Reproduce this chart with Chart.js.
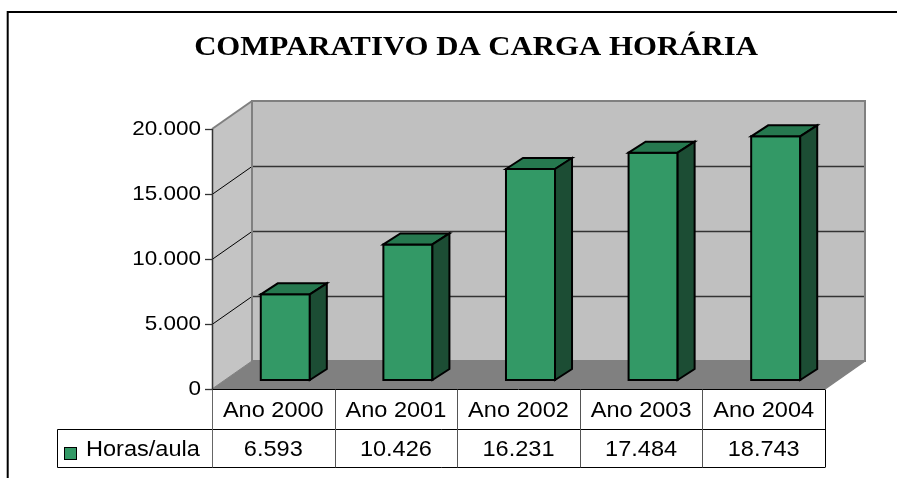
<!DOCTYPE html>
<html>
<head>
<meta charset="utf-8">
<script src="https://cdn.jsdelivr.net/npm/chart.js@4/dist/chart.umd.min.js"></script>
<style>
  body { margin: 0; background: #fff; }
  canvas { display: block; }
</style>
</head>
<body>
<canvas id="grafico" width="897" height="478"></canvas>
<script>
// dados do grafico
const titulo = 'COMPARATIVO DA CARGA HORÁRIA'
const categorias = ['Ano 2000', 'Ano 2001', 'Ano 2002', 'Ano 2003', 'Ano 2004']
const serieNome = 'Horas/aula'
const horasAula = [6593, 10426, 16231, 17484, 18743]
const valoresEixo = [0, 5000, 10000, 15000, 20000]
const rotulosEixo = ['0', '5.000', '10.000', '15.000', '20.000']

// profundidade do "3D"
const DX = 40, DY = 28      // parede lateral / piso
const FX = 12, FY = 9       // recuo da face frontal das barras
const BX = 17, BY = 11      // espessura das barras

function milhar(n) {
  return String(n).replace(/\B(?=(\d{3})+(?!\d))/g, '.')
}

// texto um pouco esticado na horizontal, como no original
function texto(ctx, s, x, y, align, sx) {
  ctx.save()
  ctx.translate(x, y)
  ctx.scale(sx, 1)
  ctx.textAlign = align
  ctx.fillText(s, 0, 0)
  ctx.restore()
}

function poly(ctx, pts, fill, stroke, lw) {
  ctx.beginPath()
  ctx.moveTo(pts[0][0], pts[0][1])
  for (let i = 1; i < pts.length; i++) ctx.lineTo(pts[i][0], pts[i][1])
  ctx.closePath()
  if (fill) { ctx.fillStyle = fill; ctx.fill() }
  if (stroke) { ctx.strokeStyle = stroke; ctx.lineWidth = lw; ctx.stroke() }
}

function linha(ctx, x1, y1, x2, y2, cor, lw) {
  ctx.beginPath()
  ctx.moveTo(x1, y1)
  ctx.lineTo(x2, y2)
  ctx.strokeStyle = cor
  ctx.lineWidth = lw
  ctx.stroke()
}

const fundo3d = {
  id: 'fundo3d',
  beforeDraw(chart) {
    const ctx = chart.ctx
    const a = chart.chartArea
    const y = chart.scales.y
    ctx.save()
    ctx.fillStyle = '#fff'
    ctx.fillRect(0, 0, chart.width, chart.height)

    // moldura externa
    ctx.strokeStyle = '#000'
    ctx.lineWidth = 2
    ctx.strokeRect(7.7, 12, 960, 520)

    // titulo
    ctx.fillStyle = '#000'
    ctx.font = 'bold 28px "Liberation Serif", "Times New Roman", serif'
    ctx.textBaseline = 'alphabetic'
    texto(ctx, titulo, 476, 55, 'center', 1.1)

    // parede do fundo, parede lateral e piso
    poly(ctx, [[a.left + DX, a.top - DY], [a.right + DX, a.top - DY], [a.right + DX, a.bottom - DY], [a.left + DX, a.bottom - DY]], '#c0c0c0')
    poly(ctx, [[a.left, a.top], [a.left + DX, a.top - DY], [a.left + DX, a.bottom - DY], [a.left, a.bottom]], '#c4c4c4')
    poly(ctx, [[a.left, a.bottom], [a.left + DX, a.bottom - DY], [a.right + DX, a.bottom - DY], [a.right, a.bottom]], '#808080')

    // linhas de grade
    valoresEixo.forEach(v => {
      if (v === 0 || v === valoresEixo[valoresEixo.length - 1]) return
      const py = Math.round(y.getPixelForValue(v)) + 0.5
      linha(ctx, a.left, py, a.left + DX, py - DY, '#000', 1)
      linha(ctx, a.left + DX, py - DY, a.right + DX, py - DY, '#333', 1.3)
    })

    // contornos das paredes
    ctx.lineJoin = 'miter'
    linha(ctx, a.left, a.top, a.left + DX, a.top - DY, '#808080', 2)
    poly(ctx, [[a.left + DX, a.top - DY], [a.right + DX, a.top - DY], [a.right + DX, a.bottom - DY], [a.left + DX, a.bottom - DY]], null, '#808080', 2)
    linha(ctx, a.right, a.bottom, a.right + DX, a.bottom - DY, '#808080', 1.5)
    linha(ctx, a.left + DX, a.bottom - DY, a.left, a.bottom, '#808080', 1)

    // eixo de valores
    linha(ctx, a.left + 0.5, a.top, a.left + 0.5, a.bottom, '#333', 1.5)
    ctx.font = '21px "Liberation Sans", Arial, sans-serif'
    ctx.textBaseline = 'middle'
    ctx.fillStyle = '#000'
    valoresEixo.forEach((v, i) => {
      const py = Math.round(y.getPixelForValue(v)) + 0.5
      linha(ctx, a.left - 7, py, a.left, py, '#333', 1.3)
      texto(ctx, rotulosEixo[i], a.left - 11, py, 'right', 1.07)
    })
    ctx.restore()
  },
  afterDatasetsDraw(chart) {
    const ctx = chart.ctx
    const meta = chart.getDatasetMeta(0)
    ctx.save()
    ctx.lineJoin = 'miter'
    meta.data.forEach(el => {
      const x0 = el.x - el.width / 2 + FX
      const x1 = el.x + el.width / 2 + FX
      const top = el.y - FY
      const bot = el.base - FY
      // frente
      poly(ctx, [[x0, top], [x1, top], [x1, bot], [x0, bot]], '#339966', '#000', 2)
      // topo
      poly(ctx, [[x0, top], [x0 + BX, top - BY], [x1 + BX, top - BY], [x1, top]], '#26784f', '#000', 2)
      // lateral
      poly(ctx, [[x1, top], [x1 + BX, top - BY], [x1 + BX, bot - BY], [x1, bot]], '#1c4d34', '#000', 2)
    })
    ctx.restore()
  },
  afterDraw(chart) {
    // tabela de dados
    const ctx = chart.ctx
    const a = chart.chartArea
    const x = chart.scales.x
    const meio = (x.getPixelForValue(1) - x.getPixelForValue(0)) / 2
    const y0 = a.bottom + 0.5, y1 = 429.5, y2 = 467.5, xl = 57.5
    ctx.save()
    linha(ctx, a.left, y0, a.right, y0, '#000', 1)
    linha(ctx, xl, y1, a.right, y1, '#000', 1)
    linha(ctx, xl, y2, a.right, y2, '#000', 1)
    linha(ctx, xl, y1, xl, y2, '#000', 1)
    linha(ctx, a.left + 0.5, y0, a.left + 0.5, y2, '#666', 1)
    categorias.forEach((c, i) => {
      const xr = Math.round(x.getPixelForValue(i) + meio) + 0.5
      linha(ctx, xr, y0, xr, y2, i === categorias.length - 1 ? '#000' : '#555', 1)
    })
    ctx.fillStyle = '#000'
    ctx.font = '22px "Liberation Sans", Arial, sans-serif'
    ctx.textBaseline = 'middle'
    categorias.forEach((c, i) => {
      const cx = x.getPixelForValue(i)
      texto(ctx, c, cx, (y0 + y1) / 2 + 1, 'center', 1.07)
      texto(ctx, milhar(horasAula[i]), cx, (y1 + y2) / 2 + 1, 'center', 1.07)
    })
    // legenda
    ctx.fillStyle = '#339966'
    ctx.fillRect(64.5, 447.5, 12, 12)
    ctx.strokeStyle = '#000'
    ctx.lineWidth = 1
    ctx.strokeRect(64.5, 447.5, 12, 12)
    ctx.fillStyle = '#000'
    texto(ctx, serieNome, 86, (y1 + y2) / 2 + 1, 'left', 1.07)
    ctx.restore()
  }
}

new Chart(document.getElementById('grafico'), {
  type: 'bar',
  data: {
    labels: categorias,
    datasets: [{
      label: serieNome,
      data: horasAula,
      backgroundColor: 'rgba(0,0,0,0)',
      borderWidth: 0,
      categoryPercentage: 1,
      barPercentage: 0.4
    }]
  },
  options: {
    responsive: false,
    devicePixelRatio: 1,
    animation: false,
    layout: { padding: { left: 212, right: 72, top: 129, bottom: 89 } },
    scales: {
      x: { display: false, offset: true },
      y: { display: false, min: 0, max: 20000, ticks: { stepSize: 5000 } }
    },
    plugins: {
      legend: { display: false },
      title: { display: false },
      tooltip: { enabled: false }
    }
  },
  plugins: [fundo3d]
})
</script>
</body>
</html>
